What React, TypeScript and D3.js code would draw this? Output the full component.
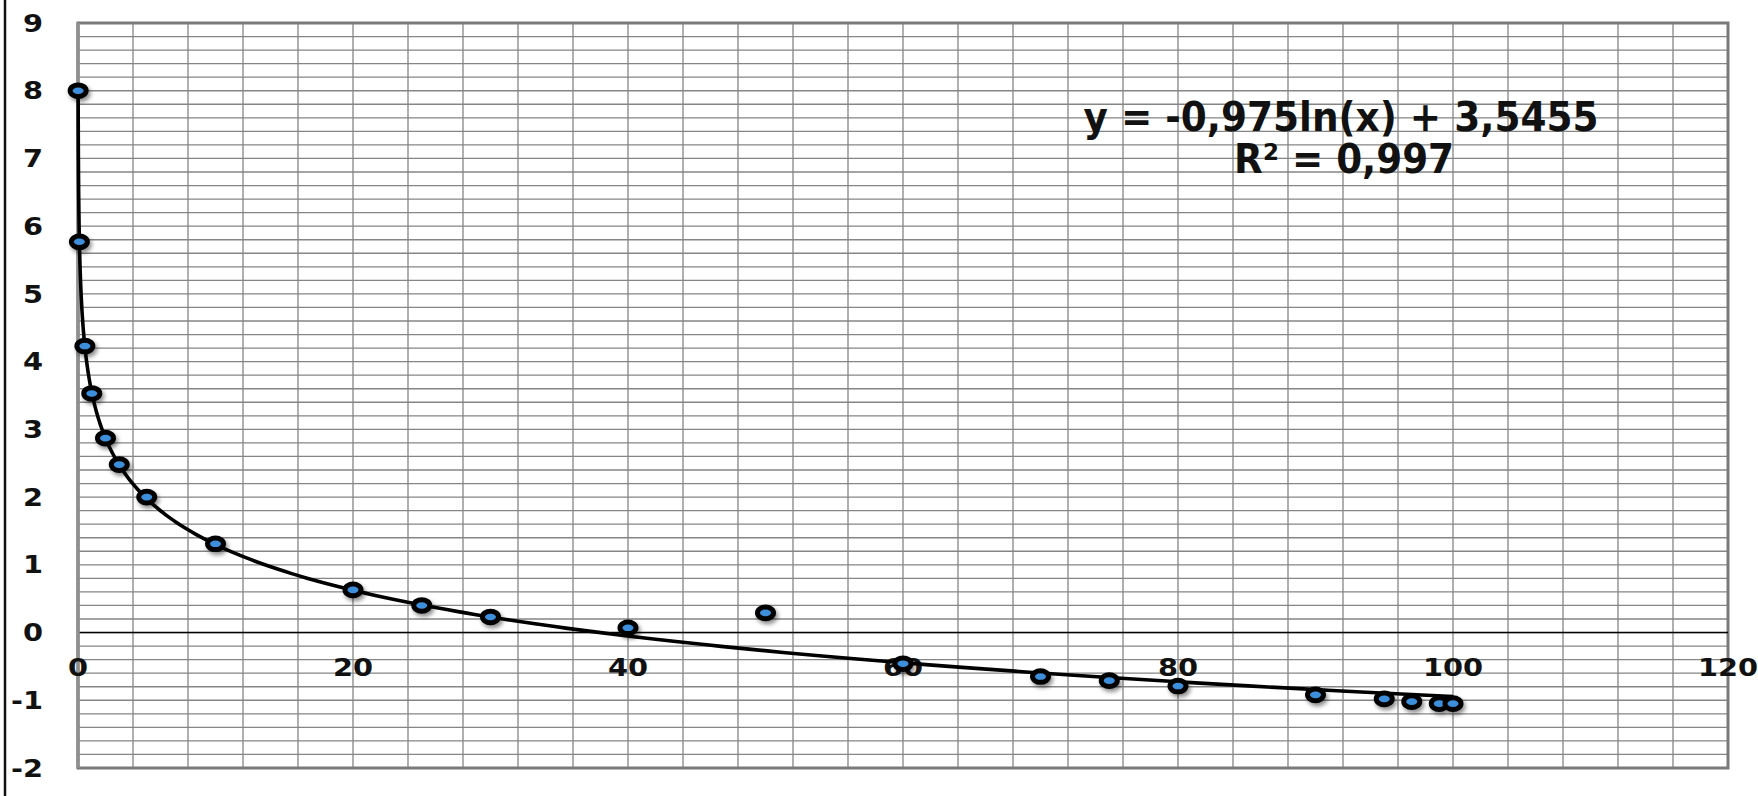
import React from "react";
import * as d3 from "d3";

// Measured points
const xValues = [0.01, 0.1, 0.5, 1, 2, 3, 5, 10, 20, 25, 30, 40, 50, 60, 70, 75, 80, 90, 95, 97, 99, 100];
const yValues = [8.0, 5.77, 4.23, 3.53, 2.87, 2.48, 2.0, 1.31, 0.63, 0.4, 0.23, 0.07, 0.29, -0.46, -0.65, -0.71, -0.79, -0.92, -0.98, -1.02, -1.05, -1.05];

// Logarithmic trendline coefficients: y = a·ln(x) + b
const trendA = -0.975;
const trendB = 3.5455;
const equationLabel = "y = -0,975ln(x) + 3,5455";
const r2Label = "R² = 0,997";

const xTicks = [0, 20, 40, 60, 80, 100, 120];
const yTicks = [-2, -1, 0, 1, 2, 3, 4, 5, 6, 7, 8, 9];

const W = 1758;
const H = 796;
const FONT = "'DejaVu Sans', Verdana, sans-serif";
const LABEL_STRETCH = 1.2;

export default function App() {
  const x = d3.scaleLinear().domain([0, 120]).range([78, 1728]);
  const y = d3.scaleLinear().domain([-2, 9]).range([768, 23]);

  const vGrid = d3.range(0, 120.001, 4);
  const hGrid = d3.range(-2, 9.001, 0.2);

  const xMin = d3.min(xValues) as number;
  const xMax = d3.max(xValues) as number;
  const trendXs = d3
    .range(0, 401)
    .map((i) => Math.exp(Math.log(xMin) + ((Math.log(xMax) - Math.log(xMin)) * i) / 400));
  const trendLine = d3
    .line<number>()
    .x((d) => x(d))
    .y((d) => y(trendA * Math.log(d) + trendB))
    .curve(d3.curveLinear)(trendXs) as string;

  const points = xValues.map((xv, i) => ({ xv, yv: yValues[i] }));

  return (
    <svg
      width={W}
      height={H}
      style={{ position: "absolute", left: 0, top: 0, background: "#fff" }}
    >
      <defs>
        <filter id="markerShadow" x="-50%" y="-50%" width="200%" height="200%">
          <feDropShadow dx="2" dy="3" stdDeviation="2.2" floodColor="#000" floodOpacity="0.45" />
        </filter>
      </defs>
      <rect x={0} y={0} width={W} height={H} fill="#fff" />
      {/* outer chart-area edge */}
      <line x1={5} x2={5} y1={0} y2={H} stroke="#111" strokeWidth={2.5} />

      {/* grid */}
      <g stroke="#858585" strokeWidth={1.3}>
        {hGrid.map((v, i) => (
          <line key={"h" + i} x1={x(0)} x2={x(120)} y1={y(v)} y2={y(v)} />
        ))}
        {vGrid.map((v, i) => (
          <line key={"v" + i} x1={x(v)} x2={x(v)} y1={y(9)} y2={y(-2)} />
        ))}
      </g>

      {/* plot frame */}
      <rect
        x={x(0)}
        y={y(9)}
        width={x(120) - x(0)}
        height={y(-2) - y(9)}
        fill="none"
        stroke="#7a7a7a"
        strokeWidth={3}
      />
      {/* horizontal axis at y = 0 */}
      <line x1={x(0)} x2={x(120)} y1={y(0)} y2={y(0)} stroke="#000" strokeWidth={1.6} />
      {/* vertical axis */}
      <line x1={x(0)} x2={x(0)} y1={y(9)} y2={y(-2)} stroke="#8f8f8f" strokeWidth={3.5} />

      {/* y tick labels */}
      <g fontFamily={FONT} fontWeight="bold" fontSize={24} fill="#111">
        {yTicks.map((t) => (
          <text
            key={t}
            transform={`translate(43,${y(t)}) scale(${LABEL_STRETCH},1)`}
            textAnchor="end"
            dominantBaseline="central"
          >
            {t}
          </text>
        ))}
      </g>

      {/* x tick labels */}
      <g fontFamily={FONT} fontWeight="bold" fontSize={24} fill="#111">
        {xTicks.map((t) => (
          <text
            key={t}
            transform={`translate(${x(t)},676) scale(${LABEL_STRETCH},1)`}
            textAnchor="middle"
          >
            {t}
          </text>
        ))}
      </g>

      {/* trendline */}
      <path d={trendLine} fill="none" stroke="#000" strokeWidth={3.6} strokeLinejoin="round" />

      {/* markers */}
      <g filter="url(#markerShadow)">
        {points.map((p, i) => (
          <ellipse
            key={i}
            cx={x(p.xv)}
            cy={y(p.yv)}
            rx={8}
            ry={5.8}
            fill="#3d8fdc"
            stroke="#050505"
            strokeWidth={5}
          />
        ))}
      </g>

      {/* trendline equation */}
      <g fontFamily={FONT} fontWeight="bold" fill="#111">
        <text
          x={1341}
          y={131}
          fontSize={40}
          textAnchor="middle"
          textLength={515}
          lengthAdjust="spacingAndGlyphs"
        >
          {equationLabel}
        </text>
        <text
          x={1344}
          y={173}
          fontSize={40}
          textAnchor="middle"
          textLength={220}
          lengthAdjust="spacingAndGlyphs"
        >
          {r2Label}
        </text>
      </g>
    </svg>
  );
}
